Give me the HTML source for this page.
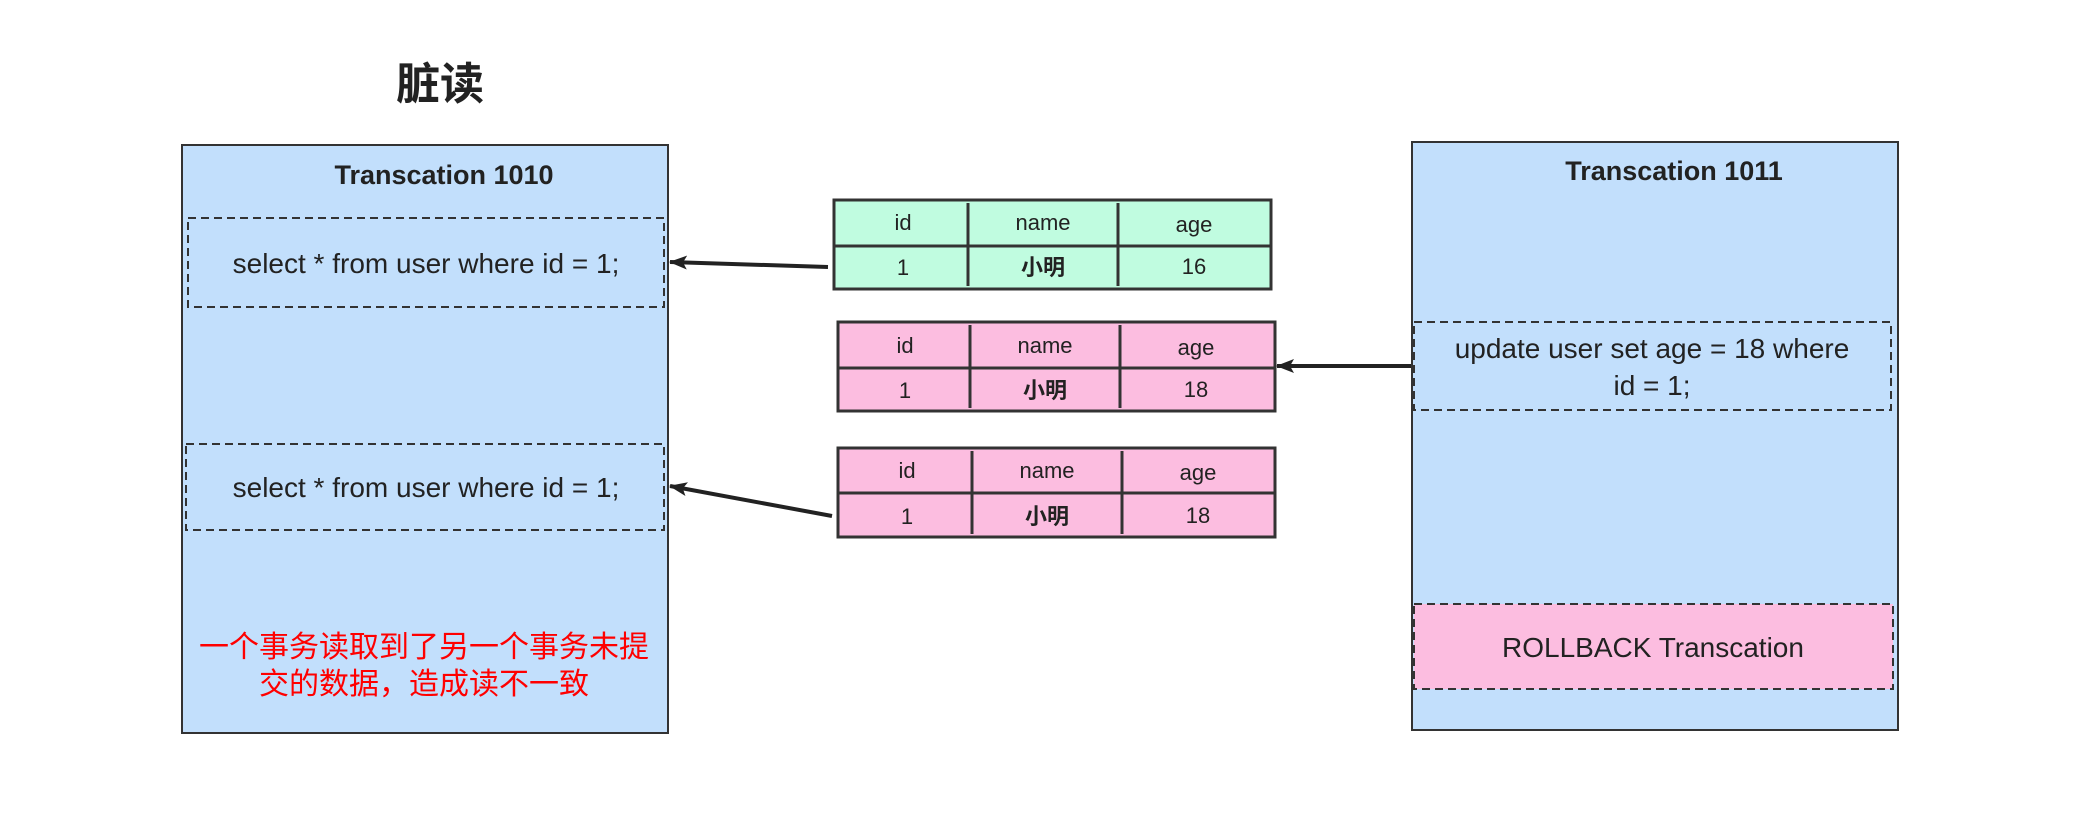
<!DOCTYPE html>
<html><head><meta charset="utf-8"><style>
html,body{margin:0;padding:0;background:#fff;}
svg{display:block;}
text{font-family:"Liberation Sans","Noto Sans CJK SC",sans-serif;fill:#222;}
</style></head><body>
<svg width="2086" height="838" viewBox="0 0 2086 838" xmlns="http://www.w3.org/2000/svg">
<defs>
<marker id="ah2" markerWidth="18" markerHeight="14" refX="17" refY="7" orient="auto" markerUnits="userSpaceOnUse"><path d="M0,0 L18,7 L0,14 L4,7 Z" fill="#222"/></marker></defs>
<text x="440" y="99" font-size="44" font-weight="bold" text-anchor="middle" style="font-family:'Noto Sans CJK SC',sans-serif">脏读</text>

<!-- left box -->
<rect x="182" y="145" width="486" height="588" fill="#c2dffc" stroke="#333" stroke-width="2"/>
<text x="444" y="184" font-size="27" text-anchor="middle" font-weight="bold">Transcation 1010</text>
<rect x="188" y="218" width="476" height="89" fill="none" stroke="#333" stroke-width="2" stroke-dasharray="8,5"/>
<text x="426" y="273" font-size="28" text-anchor="middle">select * from user where id = 1;</text>
<rect x="186" y="444" width="478" height="86" fill="none" stroke="#333" stroke-width="2" stroke-dasharray="8,5"/>
<text x="426" y="497" font-size="28" text-anchor="middle">select * from user where id = 1;</text>
<text x="424" y="657" font-size="30" text-anchor="middle" style="fill:#f00">一个事务读取到了另一个事务未提</text>
<text x="424" y="694" font-size="30" text-anchor="middle" style="fill:#f00">交的数据，造成读不一致</text>

<!-- tables -->
<g stroke="#333" stroke-width="3">
<rect x="834" y="200" width="437" height="89" fill="#c0fce0"/>
<line x1="834" y1="246" x2="1271" y2="246"/><line x1="968" y1="203" x2="968" y2="286"/><line x1="1118" y1="203" x2="1118" y2="286"/>
<rect x="838" y="322" width="437" height="89" fill="#fcbde0"/>
<line x1="838" y1="368" x2="1275" y2="368"/><line x1="970" y1="325" x2="970" y2="408"/><line x1="1120" y1="325" x2="1120" y2="408"/>
<rect x="838" y="448" width="437" height="89" fill="#fcbde0"/>
<line x1="838" y1="493" x2="1275" y2="493"/><line x1="972" y1="451" x2="972" y2="534"/><line x1="1122" y1="451" x2="1122" y2="534"/>
</g>
<g font-size="22" text-anchor="middle">
<text x="903" y="230">id</text><text x="1043" y="230">name</text><text x="1194" y="232">age</text>
<text x="903" y="275">1</text><text x="1043" y="275" font-weight="bold">小明</text><text x="1194" y="274">16</text>
<text x="905" y="353">id</text><text x="1045" y="353">name</text><text x="1196" y="355">age</text>
<text x="905" y="398">1</text><text x="1045" y="398" font-weight="bold">小明</text><text x="1196" y="397">18</text>
<text x="907" y="478">id</text><text x="1047" y="478">name</text><text x="1198" y="480">age</text>
<text x="907" y="524">1</text><text x="1047" y="524" font-weight="bold">小明</text><text x="1198" y="523">18</text>
</g>

<!-- arrows -->
<line x1="828" y1="267" x2="670" y2="262" stroke="#222" stroke-width="4" marker-end="url(#ah2)"/>
<line x1="832" y1="516" x2="670" y2="486" stroke="#222" stroke-width="4" marker-end="url(#ah2)"/>
<line x1="1414" y1="366" x2="1277" y2="366" stroke="#222" stroke-width="4" marker-end="url(#ah2)"/>

<!-- right box -->
<rect x="1412" y="142" width="486" height="588" fill="#c2dffc" stroke="#333" stroke-width="2"/>
<text x="1674" y="180" font-size="27" text-anchor="middle" font-weight="bold">Transcation 1011</text>
<rect x="1414" y="322" width="477" height="88" fill="none" stroke="#333" stroke-width="2" stroke-dasharray="8,5"/>
<text x="1652" y="358" font-size="28" text-anchor="middle">update user set age = 18 where</text>
<text x="1652" y="395" font-size="28" text-anchor="middle">id = 1;</text>
<rect x="1414" y="604" width="479" height="85" fill="#fcbde0" stroke="#333" stroke-width="2" stroke-dasharray="8,5"/>
<text x="1653" y="657" font-size="28" text-anchor="middle">ROLLBACK Transcation</text>
</svg>
</body></html>
